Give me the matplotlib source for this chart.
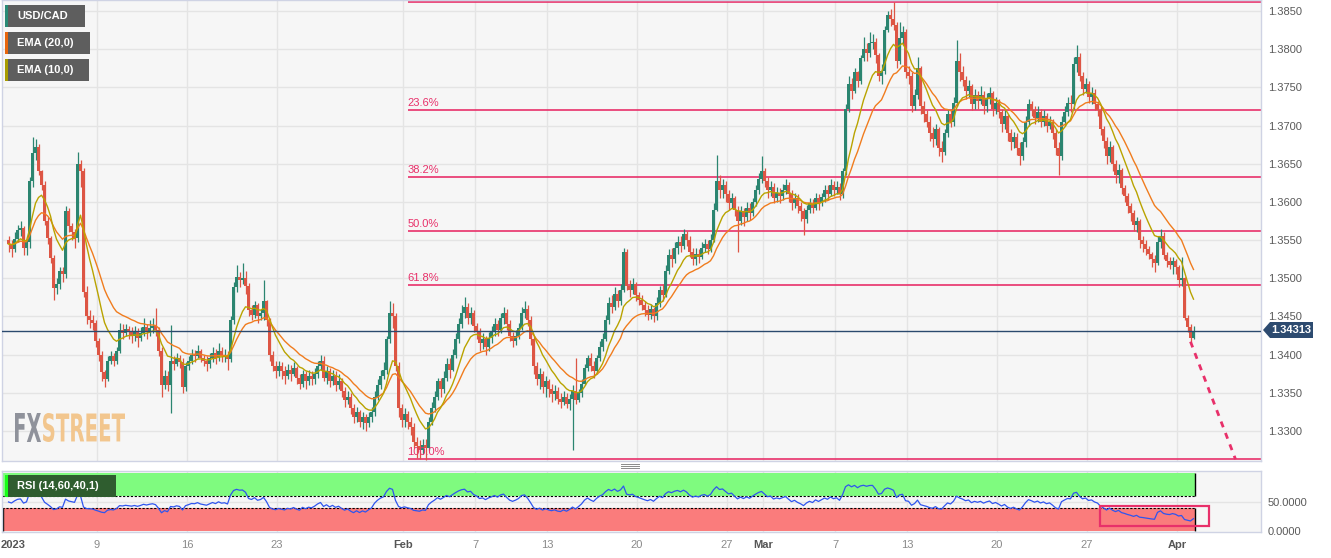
import numpy as np
import pandas as pd
import matplotlib
matplotlib.use("Agg")
import matplotlib.pyplot as plt
from matplotlib.patches import Rectangle, Polygon, PathPatch
from matplotlib.textpath import TextPath
from matplotlib.font_manager import FontProperties
from matplotlib import transforms

plt.rcParams["font.family"] = ["Liberation Sans", "DejaVu Sans"]

# USD/CAD 4H candles, Jan 2 - Apr 3 2023 (6 per trading day), values in pips: 3545 -> 1.3545
first_open = 3550
close_pips = [
    3545, 3538, 3552, 3563, 3566, 3540,  # Jan 2
    3548, 3628, 3664, 3672, 3640, 3622,  # Jan 3
    3575, 3553, 3527, 3487, 3492, 3510,  # Jan 4
    3505, 3588, 3568, 3560, 3553, 3650,  # Jan 5
    3640, 3482, 3450, 3445, 3442, 3418,  # Jan 6
    3400, 3377, 3368, 3392, 3398, 3392,  # Jan 9
    3405, 3432, 3428, 3434, 3430, 3425,  # Jan 10
    3430, 3422, 3428, 3436, 3430, 3435,  # Jan 11
    3438, 3432, 3405, 3360, 3372, 3360,  # Jan 12
    3392, 3388, 3395, 3390, 3358, 3385,  # Jan 13
    3392, 3400, 3398, 3405, 3396, 3392,  # Jan 16
    3388, 3395, 3402, 3396, 3405, 3398,  # Jan 17
    3400, 3394, 3445, 3488, 3502, 3498,  # Jan 18
    3500, 3490, 3458, 3452, 3465, 3450,  # Jan 19
    3455, 3470, 3445, 3400, 3385, 3378,  # Jan 20
    3385, 3378, 3372, 3380, 3375, 3382,  # Jan 23
    3370, 3362, 3375, 3365, 3372, 3368,  # Jan 24
    3375, 3385, 3392, 3370, 3378, 3365,  # Jan 25
    3372, 3360, 3365, 3352, 3340, 3345,  # Jan 26
    3330, 3318, 3325, 3312, 3318, 3310,  # Jan 27
    3318, 3325, 3345, 3360, 3372, 3380,  # Jan 30
    3420, 3455, 3450, 3385, 3330, 3315,  # Jan 31
    3322, 3312, 3305, 3285, 3280, 3275,  # Feb 1
    3282, 3278, 3312, 3330, 3345, 3365,  # Feb 2
    3355, 3370, 3388, 3380, 3400, 3420,  # Feb 3
    3440, 3455, 3462, 3448, 3455, 3438,  # Feb 6
    3430, 3415, 3420, 3410, 3422, 3430,  # Feb 7
    3440, 3432, 3448, 3455, 3440, 3425,  # Feb 8
    3418, 3425, 3435, 3455, 3460, 3445,  # Feb 9
    3420, 3385, 3368, 3375, 3358, 3365,  # Feb 10
    3355, 3348, 3352, 3342, 3338, 3345,  # Feb 13
    3335, 3342, 3352, 3340, 3350, 3362,  # Feb 14
    3382, 3395, 3385, 3378, 3395, 3410,  # Feb 15
    3420, 3445, 3468, 3462, 3480, 3470,  # Feb 16
    3485, 3535, 3490, 3485, 3492, 3478,  # Feb 17
    3472, 3465, 3458, 3452, 3460, 3450,  # Feb 20
    3468, 3485, 3478, 3510, 3530, 3525,  # Feb 21
    3540, 3548, 3542, 3558, 3550, 3535,  # Feb 22
    3525, 3532, 3528, 3540, 3545, 3538,  # Feb 23
    3550, 3590, 3628, 3615, 3622, 3610,  # Feb 24
    3598, 3605, 3590, 3575, 3588, 3580,  # Feb 27
    3592, 3585, 3600, 3615, 3630, 3640,  # Feb 28
    3628, 3615, 3620, 3605, 3612, 3608,  # Mar 1
    3615, 3622, 3610, 3598, 3605, 3595,  # Mar 2
    3588, 3578, 3590, 3598, 3592, 3605,  # Mar 3
    3598, 3606, 3615, 3610, 3622, 3615,  # Mar 6
    3620, 3610, 3640, 3722, 3755, 3745,  # Mar 7
    3770, 3758, 3788, 3800, 3795, 3808,  # Mar 8
    3810, 3792, 3765, 3772, 3825, 3845,  # Mar 9
    3840, 3832, 3785, 3815, 3822, 3770,  # Mar 10
    3765, 3725, 3740, 3775, 3725, 3715,  # Mar 13
    3705, 3690, 3682, 3695, 3670, 3665,  # Mar 14
    3690, 3715, 3705, 3730, 3785, 3770,  # Mar 15
    3760, 3745, 3752, 3728, 3740, 3732,  # Mar 16
    3740, 3725, 3735, 3742, 3722, 3730,  # Mar 17
    3718, 3702, 3712, 3690, 3678, 3685,  # Mar 20
    3670, 3660, 3678, 3705, 3728, 3720,  # Mar 21
    3710, 3718, 3705, 3712, 3700, 3705,  # Mar 22
    3690, 3670, 3660, 3705, 3718, 3730,  # Mar 23
    3728, 3780, 3790, 3765, 3748, 3755,  # Mar 24
    3738, 3742, 3728, 3720, 3695, 3680,  # Mar 27
    3660, 3672, 3650, 3635, 3642, 3618,  # Mar 28
    3608, 3595, 3585, 3570, 3575, 3550,  # Mar 29
    3545, 3538, 3532, 3525, 3520, 3548,  # Mar 30
    3555, 3530, 3522, 3518, 3522, 3515,  # Mar 31
    3498, 3500, 3448, 3436, 3422, 3431.3,  # Apr 3
]
high_pips = [
    3556, 3550, 3560, 3570, 3575, 3568,
    3552, 3632, 3685, 3683, 3676, 3642,
    3628, 3580, 3556, 3530, 3500, 3515,
    3515, 3595, 3592, 3572, 3565, 3665,
    3655, 3645, 3490, 3458, 3452, 3446,
    3422, 3405, 3380, 3398, 3405, 3402,
    3410, 3442, 3440, 3440, 3438, 3436,
    3438, 3435, 3436, 3448, 3440, 3445,
    3448, 3461, 3436, 3410, 3380, 3378,
    3439, 3398, 3402, 3400, 3395, 3390,
    3398, 3408, 3406, 3412, 3408, 3400,
    3398, 3402, 3410, 3408, 3415, 3410,
    3408, 3405, 3450, 3495, 3517, 3508,
    3520, 3510, 3494, 3465, 3470, 3468,
    3460, 3498, 3472, 3448, 3405, 3392,
    3392, 3390, 3385, 3388, 3386, 3390,
    3385, 3375, 3380, 3378, 3380, 3378,
    3382, 3392, 3400, 3398, 3385, 3382,
    3380, 3378, 3375, 3370, 3358, 3352,
    3350, 3335, 3332, 3328, 3325, 3322,
    3325, 3332, 3352, 3368, 3380, 3390,
    3425, 3470, 3468, 3455, 3390, 3335,
    3330, 3326, 3318, 3310, 3292, 3288,
    3290, 3290, 3318, 3338, 3352, 3370,
    3370, 3378, 3395, 3395, 3408, 3428,
    3448, 3465, 3476, 3468, 3462, 3458,
    3442, 3435, 3428, 3425, 3430, 3438,
    3448, 3445, 3455, 3462, 3460, 3445,
    3430, 3432, 3442, 3462, 3470, 3465,
    3450, 3425, 3390, 3382, 3378, 3372,
    3368, 3362, 3360, 3358, 3350, 3352,
    3350, 3348, 3360, 3395, 3355, 3368,
    3388, 3400, 3402, 3392, 3400, 3418,
    3428, 3452, 3475, 3478, 3488, 3485,
    3492, 3540, 3538, 3498, 3500, 3495,
    3482, 3478, 3470, 3465, 3466, 3462,
    3475, 3490, 3492, 3518, 3538, 3540,
    3548, 3555, 3555, 3565, 3562, 3555,
    3540, 3540, 3538, 3548, 3552, 3550,
    3558, 3598, 3661, 3635, 3630, 3628,
    3615, 3612, 3608, 3595, 3595, 3592,
    3600, 3598, 3605, 3622, 3638, 3660,
    3645, 3632, 3628, 3625, 3620, 3618,
    3624, 3630, 3626, 3615, 3612, 3610,
    3600, 3592, 3596, 3605, 3604, 3612,
    3610, 3612, 3622, 3622, 3630, 3628,
    3628, 3625, 3645, 3728, 3765, 3762,
    3775, 3772, 3792, 3816, 3808, 3822,
    3820, 3815, 3795, 3780, 3830, 3850,
    3852, 3862, 3835, 3835, 3830, 3826,
    3778, 3770, 3748, 3790, 3778, 3732,
    3720, 3712, 3698, 3702, 3698, 3680,
    3695, 3722, 3722, 3738, 3812, 3795,
    3778, 3765, 3760, 3755, 3748, 3745,
    3752, 3745, 3742, 3750, 3745, 3738,
    3735, 3722, 3720, 3715, 3695, 3692,
    3690, 3678, 3685, 3712, 3735, 3732,
    3725, 3725, 3722, 3720, 3716, 3712,
    3708, 3695, 3678, 3712, 3725, 3738,
    3740, 3790, 3805, 3795, 3770, 3762,
    3758, 3750, 3748, 3732, 3725, 3700,
    3685, 3680, 3675, 3655, 3650, 3645,
    3622, 3612, 3598, 3590, 3580, 3578,
    3555, 3550, 3542, 3535, 3530, 3555,
    3565, 3560, 3535, 3528, 3528, 3525,
    3518, 3528, 3502, 3452, 3440, 3438,
]
low_pips = [
    3535, 3528, 3535, 3548, 3555, 3530,
    3530, 3540, 3620, 3655, 3635, 3615,
    3570, 3545, 3520, 3472, 3480, 3486,
    3495, 3500, 3560, 3550, 3540, 3548,
    3620, 3475, 3440, 3435, 3432, 3410,
    3392, 3365, 3357, 3365, 3388, 3385,
    3388, 3402, 3420, 3424, 3420, 3415,
    3418, 3410, 3418, 3425, 3420, 3425,
    3428, 3425, 3398, 3345, 3355, 3352,
    3324, 3380, 3385, 3382, 3350, 3352,
    3380, 3388, 3390, 3395, 3390, 3385,
    3378, 3382, 3390, 3388, 3392, 3390,
    3390, 3380, 3390, 3440, 3482, 3488,
    3492, 3480, 3450, 3445, 3448, 3442,
    3445, 3445, 3438, 3392, 3378, 3370,
    3372, 3368, 3362, 3368, 3365, 3372,
    3362, 3355, 3358, 3355, 3360, 3360,
    3362, 3370, 3380, 3365, 3362, 3358,
    3360, 3352, 3355, 3345, 3332, 3335,
    3322, 3310, 3312, 3305, 3302, 3300,
    3305, 3312, 3320, 3340, 3355, 3368,
    3375, 3415, 3435, 3378, 3318, 3305,
    3305, 3302, 3295, 3278, 3265, 3263,
    3270, 3262, 3275, 3308, 3325, 3340,
    3345, 3350, 3365, 3370, 3378, 3395,
    3415, 3435, 3448, 3440, 3440, 3430,
    3420, 3405, 3408, 3400, 3405, 3415,
    3425, 3425, 3428, 3440, 3432, 3418,
    3410, 3412, 3420, 3432, 3448, 3438,
    3412, 3375, 3360, 3355, 3350, 3345,
    3345, 3338, 3340, 3335, 3330, 3334,
    3330, 3328, 3275, 3335, 3338, 3345,
    3360, 3378, 3378, 3370, 3375, 3392,
    3405, 3418, 3440, 3455, 3458, 3462,
    3465, 3482, 3485, 3475, 3480, 3470,
    3465, 3458, 3450, 3445, 3447, 3443,
    3445, 3462, 3470, 3475, 3505, 3515,
    3520, 3532, 3535, 3538, 3542, 3528,
    3518, 3518, 3520, 3525, 3535, 3532,
    3535, 3548, 3588, 3605, 3605, 3600,
    3590, 3592, 3582, 3535, 3570, 3568,
    3575, 3576, 3582, 3595, 3610, 3625,
    3620, 3605, 3608, 3598, 3600, 3598,
    3602, 3610, 3600, 3590, 3592, 3585,
    3575, 3557, 3572, 3585, 3585, 3590,
    3590, 3595, 3600, 3602, 3608, 3608,
    3610, 3602, 3605, 3635, 3718, 3735,
    3742, 3750, 3755, 3785, 3785, 3790,
    3800, 3782, 3758, 3755, 3768, 3822,
    3830, 3825, 3775, 3780, 3805, 3762,
    3755, 3718, 3720, 3735, 3715, 3705,
    3698, 3680, 3672, 3675, 3660, 3652,
    3662, 3685, 3698, 3700, 3725, 3758,
    3752, 3735, 3738, 3720, 3722, 3722,
    3728, 3715, 3718, 3728, 3712, 3715,
    3710, 3692, 3695, 3680, 3668, 3670,
    3662, 3648, 3655, 3672, 3700, 3712,
    3702, 3705, 3698, 3700, 3692, 3695,
    3682, 3662, 3635, 3655, 3700, 3712,
    3718, 3722, 3770, 3758, 3740, 3742,
    3730, 3728, 3720, 3712, 3688, 3670,
    3650, 3652, 3640, 3625, 3625, 3610,
    3600, 3585, 3575, 3562, 3560, 3540,
    3535, 3530, 3525, 3515, 3508, 3518,
    3540, 3525, 3515, 3512, 3505, 3505,
    3489, 3490, 3445, 3430, 3417, 3420,
]

candles_per_day = 6
tick_days = [5, 10, 15, 22, 26, 30, 35, 40, 42, 46, 50, 55, 60, 65]
tick_labels = ["9", "16", "23", "Feb", "7", "13", "20", "27", "Mar", "7", "13", "20", "27", "Apr"]
month_labels = ["Feb", "Mar", "Apr"]

fib_high = 1.3862
fib_low = 1.3263
fib_ratios = [0.0, 0.236, 0.382, 0.5, 0.618, 1.0]
fib_start = 133
last_price = 1.34313

# ---------------- data prep ----------------
c = 1 + np.array(close_pips) / 1e4
h = 1 + np.array(high_pips) / 1e4
l = 1 + np.array(low_pips) / 1e4
o = np.r_[1 + first_open / 1e4, c[:-1]]
h = np.maximum(h, np.maximum(o, c))
l = np.minimum(l, np.minimum(o, c))
n = len(c)
idx = np.arange(n)

ema20 = pd.Series(c).ewm(span=20, adjust=False).mean()
ema10 = pd.Series(c).ewm(span=10, adjust=False).mean()

# Wilder RSI(14); history before Jan 2 is not on the chart, so start from a neutral average
delta = np.diff(c, prepend=c[0])
avg_g = avg_l = 0.0008
rsi = []
for dlt in delta:
    avg_g = (avg_g * 13 + max(dlt, 0)) / 14
    avg_l = (avg_l * 13 + max(-dlt, 0)) / 14
    rsi.append(100 - 100 / (1 + avg_g / avg_l))
rsi = np.array(rsi)

# ---------------- figure ----------------
W, H = 1331, 558
fig = plt.figure(figsize=(W / 100, H / 100), dpi=100)
fig.patch.set_facecolor("white")
ax = fig.add_axes([2 / W, 1 - 461 / H, 1259 / W, 461 / H])
rax = fig.add_axes([2 / W, 1 - 532 / H, 1259 / W, 61 / H])

XL = (-2.17, 417.5)
BG = "#f6f6f6"
GRID = "#e4e4e4"
UP = "#2b8570"
DN = "#dd5544"
PINK = "#e8306a"

for a in (ax, rax):
    a.set_facecolor(BG)
    a.set_xlim(*XL)
    for s in a.spines.values():
        s.set_color("#cfd3e4")
        s.set_linewidth(1)
    a.set_xticks([])
    a.yaxis.tick_right()
    a.tick_params(axis="y", length=0, pad=5, labelsize=8, labelcolor="#5a5a5a")
    for d in tick_days:
        a.axvline(candles_per_day * d - 0.5, color=GRID, lw=1, zorder=0)

ax.set_ylim(1.32607, 1.38644)
yt = np.arange(1.33, 1.3851, 0.005)
ax.set_yticks(yt)
ax.set_yticklabels([f"{v:.4f}" for v in yt])
for v in yt:
    ax.axhline(v, color=GRID, lw=1, zorder=0)

# watermark
fp = FontProperties(family="DejaVu Sans", weight="bold")


def watermark(text, x0, x1, y0, y1, color):
    tp = TextPath((0, 0), text, size=40, prop=fp)
    ext = tp.get_extents()
    tr = (transforms.Affine2D().translate(-ext.x0, -ext.y0)
          .scale((x1 - x0) / ext.width, (y1 - y0) / ext.height)
          .translate(x0, H - y1))
    ax.add_patch(PathPatch(tr.transform_path(tp), transform=transforms.IdentityTransform(),
                           fc=color, ec="none", zorder=1))


watermark("FX", 15, 41, 413, 442, "#8f929b")
watermark("STREET", 43, 125, 413, 442, "#f2c68e")

# candles
cols = np.where(c >= o, UP, DN)
ax.vlines(idx, l, h, colors=cols, lw=0.9, zorder=3)
body = np.maximum(np.abs(c - o), 0.00004)
ax.bar(idx, body, bottom=np.minimum(o, c), width=0.78, color=cols, linewidth=0, zorder=3)

ax.plot(idx, ema20, color="#f07c1e", lw=1.0, zorder=4)
ax.plot(idx, ema10, color="#b9a300", lw=1.0, zorder=4)

# fibonacci
for r in fib_ratios:
    lv = fib_high - r * (fib_high - fib_low)
    ax.hlines(lv, fib_start, XL[1], color=PINK, lw=1.2, zorder=2)
    ax.text(fib_start, lv + 0.00025, f"{r * 100:.1f}%", color=PINK, fontsize=8,
            ha="left", va="bottom", zorder=5, clip_on=True)

ax.axhline(last_price, color="#2b4a6e", lw=1, zorder=4)
ax.plot([n - 2, n - 2 + 15], [l[-2], fib_low], color=PINK, lw=2,
        linestyle=(0, (2.2, 2.2)), zorder=4)

# price tag
tag = [(1263, 330), (1270, 322), (1313, 322), (1313, 338), (1270, 338)]
fig.add_artist(Polygon([(x / W, 1 - y / H) for x, y in tag], closed=True,
                       fc="#2d4b70", ec="none", transform=fig.transFigure))
fig.text(1291 / W, 1 - 330 / H, "1.34313", color="white", fontsize=8, weight="bold",
         ha="center", va="center")

# legend boxes
legend = [("USD/CAD", 85, 5, "#2a8a76"), ("EMA (20,0)", 90, 32, "#e8650c"),
          ("EMA (10,0)", 89, 59, "#a89c00")]
for txt, x1, y0, sc in legend:
    fig.add_artist(Rectangle((5 / W, 1 - (y0 + 22) / H), (x1 - 5) / W, 22 / H,
                             fc="#5e5e5e", ec="none", transform=fig.transFigure))
    fig.add_artist(Rectangle((5 / W, 1 - (y0 + 22) / H), 3 / W, 22 / H,
                             fc=sc, ec="none", transform=fig.transFigure))
    fig.text(17 / W, 1 - (y0 + 11) / H, txt, color="white", fontsize=8, weight="bold",
             va="center", ha="left")

# ---------------- RSI ----------------
rax.set_ylim(-1.7, 103.4)
rax.set_yticks([0, 50])
rax.set_yticklabels(["0.0000", "50.0000"])
rax.axhline(50, color=GRID, lw=1, zorder=0)
xe = n - 0.5
rax.fill_between([XL[0], xe], 60, 100, color="#7ffb7f", lw=0, zorder=1)
rax.fill_between([XL[0], xe], 0, 40, color="#fa7c7c", lw=0, zorder=1)
rax.hlines([40, 60], XL[0], xe, colors="black", linestyles=(0, (2, 1.5)), lw=0.8, zorder=2)
rax.vlines([xe, xe], [0, 60], [40, 100], colors="black", lw=1, zorder=2)
rax.vlines([XL[0] + 0.3], [0], [40], colors="black", lw=1, zorder=2)
rax.plot(idx, rsi, color="#2f55ee", lw=0.9, zorder=3)
rax.add_patch(Rectangle((363.8, 8.6), 36.4, 34.5, fill=False, ec=PINK, lw=1.6, zorder=4))

fig.add_artist(Rectangle((5 / W, 1 - 497 / H), 111 / W, 22 / H, fc="#2f5d2f",
                         ec="none", transform=fig.transFigure))
fig.add_artist(Rectangle((5 / W, 1 - 497 / H), 3 / W, 22 / H, fc="#19ff19",
                         ec="none", transform=fig.transFigure))
fig.text(17 / W, 1 - 486 / H, "RSI (14,60,40,1)", color="white", fontsize=8,
         weight="bold", va="center", ha="left")

# panel grip
for yy in (464, 466, 468):
    fig.add_artist(plt.Line2D([621 / W, 639 / W], [1 - yy / H, 1 - yy / H],
                              color="#8a8a8a", lw=0.7, transform=fig.transFigure))

# date labels
bt = transforms.blended_transform_factory(rax.transData, fig.transFigure)
for d, lab in zip(tick_days, tick_labels):
    bold = lab in month_labels
    rax.text(candles_per_day * d - 0.5, 1 - 545 / H, lab, transform=bt, ha="center",
             va="center", fontsize=8, color="#555555" if bold else "#8a8a8a",
             weight="bold" if bold else "normal", clip_on=False)
fig.text(1 / W, 1 - 545 / H, "2023", ha="left", va="center", fontsize=8,
         color="#555555", weight="bold")

fig.savefig("out.png", dpi=100)
